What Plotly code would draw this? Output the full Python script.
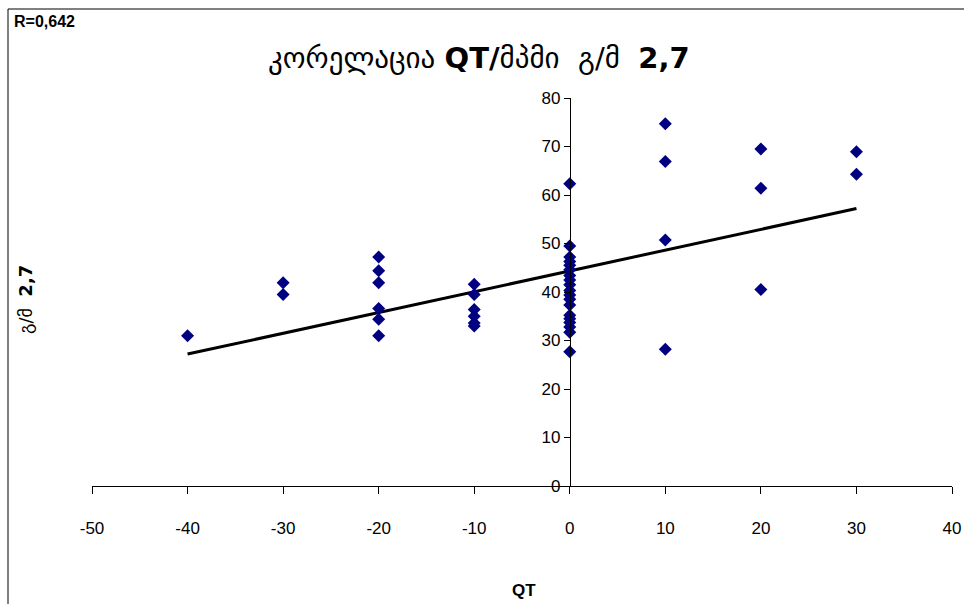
import plotly.graph_objects as go

# ---- data ----
qt_m40 = [-40]
v_m40 = [31.0]
qt_m30 = [-30, -30]
v_m30 = [41.9, 39.5]
qt_m20 = [-20] * 6
v_m20 = [47.2, 44.4, 41.9, 36.6, 34.4, 31.0]
qt_m10 = [-10] * 6
v_m10 = [41.6, 39.5, 36.4, 35.0, 33.6, 33.0]
qt_0 = [0] * 19
v_0 = [62.3, 49.5, 47.2, 46.3, 45.5, 44.6, 43.4, 42.5, 41.5, 40.3, 39.4,
       38.5, 37.3, 35.2, 34.5, 33.7, 32.8, 31.7, 27.7]
qt_10 = [10] * 4
v_10 = [74.7, 66.9, 50.7, 28.2]
qt_20 = [20] * 3
v_20 = [69.5, 61.4, 40.5]
qt_30 = [30, 30]
v_30 = [68.9, 64.3]

qt = qt_m40 + qt_m30 + qt_m20 + qt_m10 + qt_0 + qt_10 + qt_20 + qt_30
val = v_m40 + v_m30 + v_m20 + v_m10 + v_0 + v_10 + v_20 + v_30

trend_x = [-40, 30]
trend_y = [27.2, 57.2]

x_ticks = [-50, -40, -30, -20, -10, 0, 10, 20, 30, 40]
x_tick_labels = ["-50", "-40", "-30", "-20", "-10", "0", "10", "20", "30", "40"]
y_ticks = [0, 10, 20, 30, 40, 50, 60, 70, 80]
y_tick_labels = ["0", "10", "20", "30", "40", "50", "60", "70", "80"]

W, H = 964, 604
px_x0, px_x1 = 92, 952      # x=-50 .. x=40
px_y0, px_y1 = 486, 98      # y=0 .. y=80

fig = go.Figure()
fig.add_trace(go.Scatter(
    x=trend_x, y=trend_y, mode="lines",
    line=dict(color="black", width=3), hoverinfo="skip", showlegend=False))
fig.add_trace(go.Scatter(
    x=qt, y=val, mode="markers",
    marker=dict(symbol="diamond", size=10, color="#000080",
                line=dict(width=0)),
    showlegend=False))

yaxis_pos = (px_x0 + (0 - (-50)) / 90 * (px_x1 - px_x0)) / W

fig.update_layout(
    width=W, height=H,
    margin=dict(l=0, r=0, t=0, b=0, autoexpand=False),
    paper_bgcolor="white", plot_bgcolor="white",
    font=dict(family="Liberation Sans, Arial", size=17, color="black"),
    xaxis=dict(
        domain=[px_x0 / W, px_x1 / W],
        range=[-50, 40], tickvals=x_ticks, ticktext=x_tick_labels,
        showgrid=False, zeroline=False, automargin=False,
        showline=True, linecolor="black", linewidth=1,
        ticks="outside", ticklen=7, tickcolor="black",
        ticklabelstandoff=20,
        tickfont=dict(size=17),
    ),
    yaxis=dict(
        domain=[(H - px_y0) / H, (H - px_y1) / H],
        range=[0, 80], tickvals=y_ticks, ticktext=y_tick_labels,
        anchor="free", position=yaxis_pos, automargin=False,
        showgrid=False, zeroline=False,
        showline=True, linecolor="black", linewidth=1,
        ticks="outside", ticklen=6, tickcolor="black",
        tickfont=dict(size=17),
    ),
    shapes=[
        dict(type="line", xref="paper", yref="paper",
             x0=8 / W, x1=1, y0=1 - 9 / H, y1=1 - 9 / H,
             line=dict(color="black", width=1)),
        dict(type="line", xref="paper", yref="paper",
             x0=8 / W, x1=8 / W, y0=0, y1=1 - 9 / H,
             line=dict(color="black", width=1)),
    ],
    annotations=[
        dict(text="<b>R=0,642</b>", xref="paper", yref="paper",
             x=12 / W, y=1 - 22 / H, xanchor="left", yanchor="middle",
             showarrow=False, font=dict(size=16)),
        dict(text="კორელაცია <b>QT/</b>მპმი\u00a0\u00a0გ/მ\u00a0\u00a0<b>2,7</b>",
             xref="paper", yref="paper",
             x=479 / W, y=1 - 58 / H, xanchor="center", yanchor="middle",
             showarrow=False, font=dict(size=29, family="DejaVu Sans, Liberation Sans")),
        dict(text="გ/მ\u00a0\u00a0<b>2,7</b>", xref="paper", yref="paper",
             x=25 / W, y=1 - 300 / H, xanchor="center", yanchor="middle",
             textangle=-90, showarrow=False,
             font=dict(size=18, family="DejaVu Sans, Liberation Sans")),
        dict(text="<b>QT</b>", xref="paper", yref="paper",
             x=524 / W, y=1 - 590 / H, xanchor="center", yanchor="middle",
             showarrow=False, font=dict(size=17)),
    ],
)

fig.write_html("out.html")
